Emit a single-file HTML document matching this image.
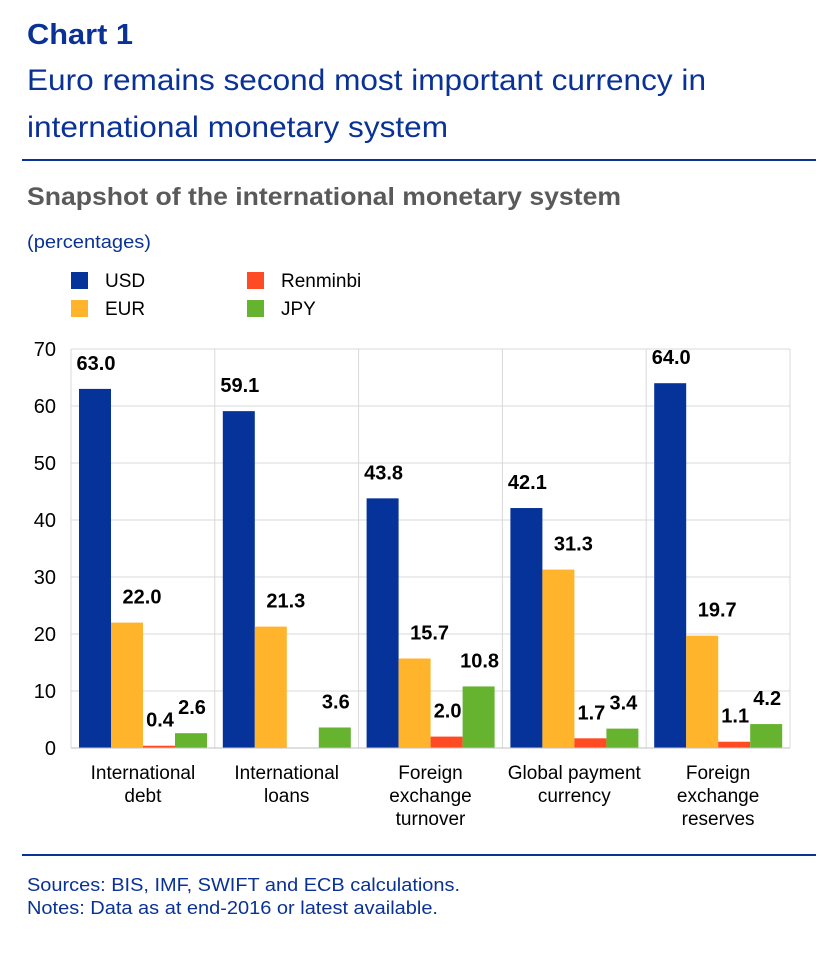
<!DOCTYPE html>
<html><head><meta charset="utf-8">
<style>
body{margin:0;background:#fff;font-family:"Liberation Sans",sans-serif;}
svg text{font-family:"Liberation Sans",sans-serif;}
</style></head>
<body>
<svg width="840" height="950" xmlns="http://www.w3.org/2000/svg">
<text x="27" y="44" font-size="29" font-weight="bold" fill="#0a3296" textLength="106" lengthAdjust="spacingAndGlyphs">Chart 1</text>
<text x="27" y="90" font-size="30" fill="#0a3296" textLength="679" lengthAdjust="spacingAndGlyphs">Euro remains second most important currency in</text>
<text x="27" y="137" font-size="30" fill="#0a3296" textLength="421" lengthAdjust="spacingAndGlyphs">international monetary system</text>
<rect x="22" y="159" width="794" height="2" fill="#0a3296"/>
<text x="27" y="205" font-size="25" font-weight="bold" fill="#5a5a5a" textLength="594" lengthAdjust="spacingAndGlyphs">Snapshot of the international monetary system</text>
<text x="27" y="248" font-size="18" fill="#0a3296" textLength="124" lengthAdjust="spacingAndGlyphs">(percentages)</text>
<g id="legend"></g>
<g id="grid"></g>
<g id="bars"></g>
<g id="axis"></g>
<rect x="22" y="854" width="794" height="2" fill="#0a3296"/>
<text x="27" y="891" font-size="18" fill="#0a3296" textLength="433" lengthAdjust="spacingAndGlyphs">Sources: BIS, IMF, SWIFT and ECB calculations.</text>
<text x="27" y="914" font-size="18" fill="#0a3296" textLength="411" lengthAdjust="spacingAndGlyphs">Notes: Data as at end-2016 or latest available.</text>
</svg>
<script>
const categories=[["International","debt"],["International","loans"],["Foreign","exchange","turnover"],["Global payment","currency"],["Foreign","exchange","reserves"]];
const seriesNames=["USD","EUR","Renminbi","JPY"];
const usd=[63.0,59.1,43.8,42.1,64.0];
const eur=[22.0,21.3,15.7,31.3,19.7];
const rmb=[0.4,null,2.0,1.7,1.1];
const jpy=[2.6,3.6,10.8,3.4,4.2];
const yTicks=[0,10,20,30,40,50,60,70];
const colors=["#06339a","#ffb42c","#ff4b24","#65b32e"];
const NS="http://www.w3.org/2000/svg";
const L=71,R=790,T=349,B=748,yMax=70;
const y=v=>B-(v/yMax)*(B-T);
const gw=(R-L)/categories.length;
function mk(tag,attrs,parent,txt){const e=document.createElementNS(NS,tag);for(const k in attrs)e.setAttribute(k,attrs[k]);if(txt!==undefined)e.textContent=txt;parent.appendChild(e);return e;}
const grid=document.getElementById('grid'),bars=document.getElementById('bars'),axis=document.getElementById('axis'),legend=document.getElementById('legend');
yTicks.forEach(t=>{
 const l=mk('line',{x1:L,x2:R,y1:y(t),y2:y(t),stroke:"#d9d9d9","stroke-width":1},grid);
 
 
 const tx=mk('text',{x:56,y:y(t)+7,"font-size":20,"text-anchor":"end",fill:"#000"},axis,String(t));
 
 
});
for(let i=0;i<=categories.length;i++){
 const l=mk('line',{x1:L+i*gw,x2:L+i*gw,y1:T,y2:B,stroke:"#d9d9d9","stroke-width":1},grid);
 
 
}
const series=[usd,eur,rmb,jpy];
const bw=32,off=8;
categories.forEach((c,i)=>{
 const gx=L+i*gw;
 series.forEach((s,j)=>{
  const v=s[i];
  if(v===null||v===undefined)return;
  const x=gx+off+j*bw;
  const r=mk('rect',{x:x,y:y(v),width:bw,height:B-y(v),fill:colors[j]},bars);
  
  
  const dx=j===1?15:1;
  const t=mk('text',{x:x+bw/2+dx,y:y(v)-19,"font-size":20,"font-weight":"bold","text-anchor":"middle",fill:"#000"},bars,v.toFixed(1));
  
  
 });
 c.forEach((line,k)=>{
  const t=mk('text',{x:gx+gw/2,y:779+k*23,"font-size":19,"text-anchor":"middle",fill:"#000"},axis,line);
  
  
 });
});
const b=mk('line',{x1:L,x2:R,y1:B,y2:B,stroke:"#bfbfbf","stroke-width":1},axis);


seriesNames.forEach((n,j)=>{
 const col=j===0?colors[0]:j===1?colors[2]:j===2?colors[1]:colors[3];
 const name=j===0?"USD":j===1?"Renminbi":j===2?"EUR":"JPY";
 const lx=j===0||j===2?71:247,ly=j<2?272:300;
 const sq=mk('rect',{x:lx,y:ly,width:17,height:17,fill:col},legend);
 
 
 const t=mk('text',{x:lx+34,y:ly+15,"font-size":19,fill:"#000"},legend,name);
 
 
});
</script>
</body></html>
